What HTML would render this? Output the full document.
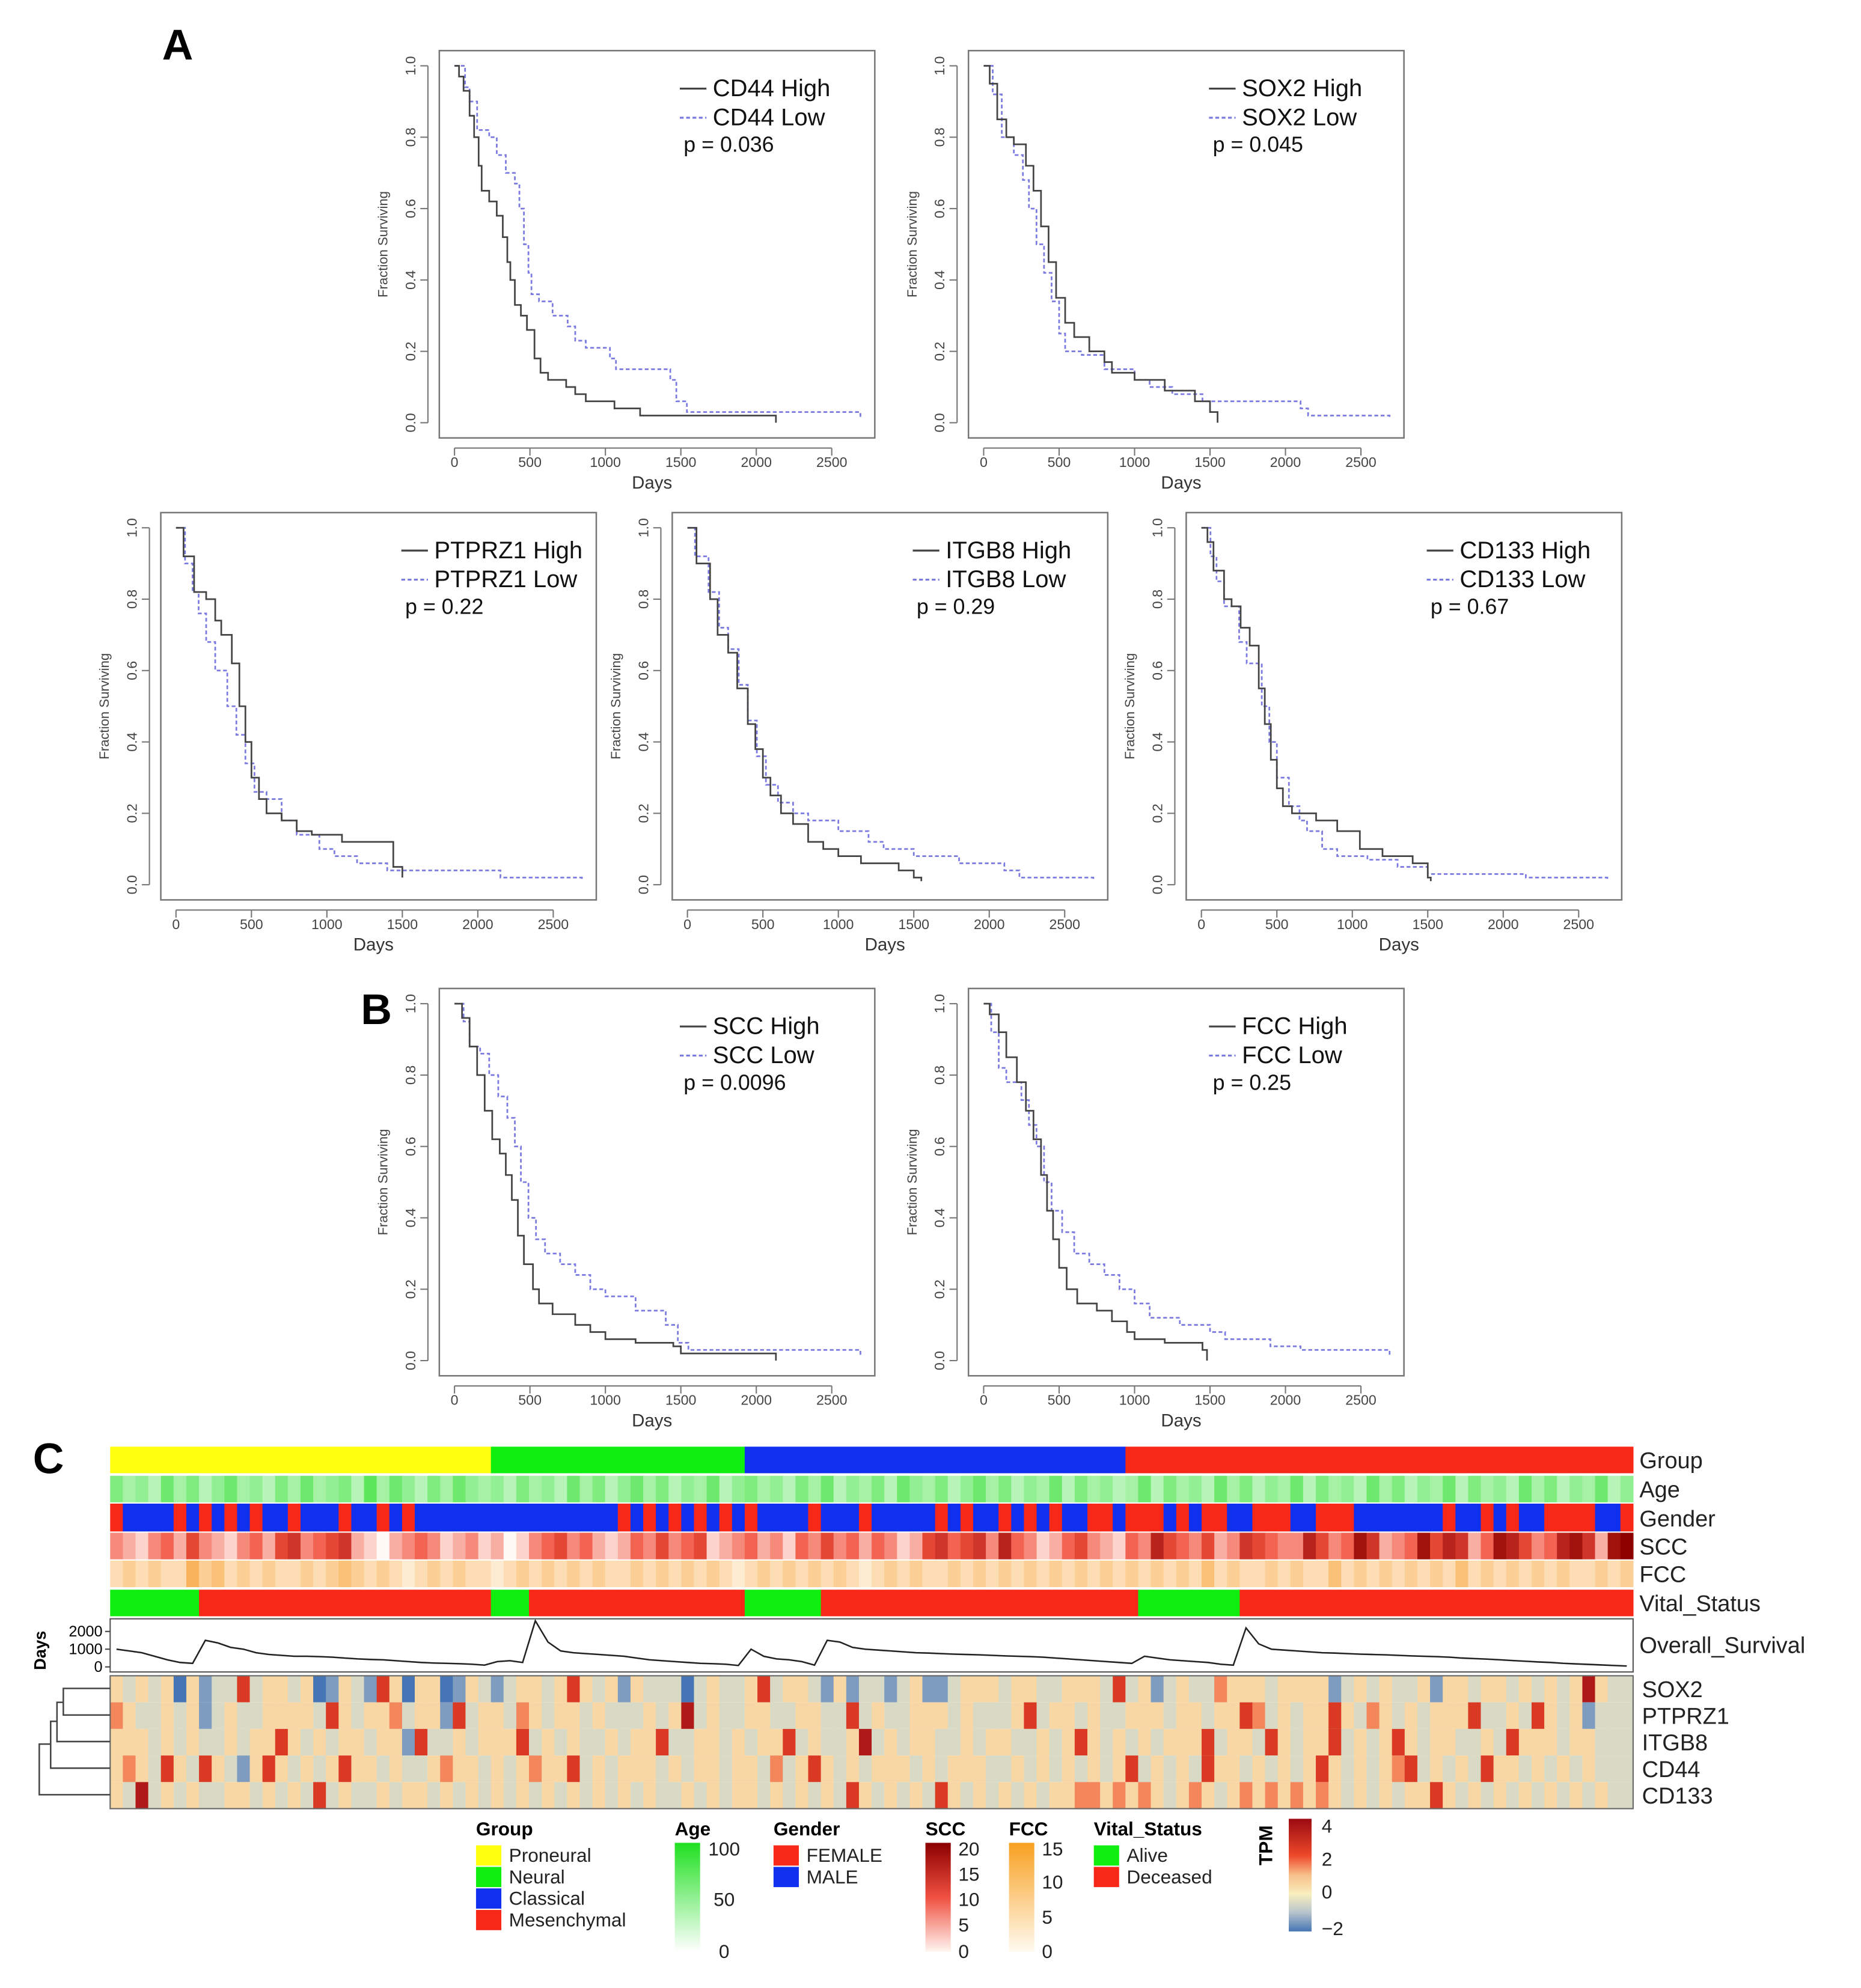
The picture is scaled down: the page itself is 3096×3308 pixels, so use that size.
<!DOCTYPE html>
<html><head><meta charset="utf-8"><style>
html,body{margin:0;padding:0;background:#fff}
svg{display:block}
text{font-family:"Liberation Sans",sans-serif}
</style></head><body>
<svg id="fig" width="3096" height="3308" viewBox="0 0 1470 1570.7" xmlns="http://www.w3.org/2000/svg"></svg>
<script>
// ---------- KM data ----------
const kmTitles=["CD44","SOX2","PTPRZ1","ITGB8","CD133","SCC","FCC"];
const kmPvals=["p = 0.036","p = 0.045","p = 0.22","p = 0.29","p = 0.67","p = 0.0096","p = 0.25"];
const highCD44=[[0,1],[30,0.97],[60,0.93],[100,0.86],[130,0.8],[160,0.72],[180,0.65],[230,0.62],[280,0.58],[320,0.52],[350,0.45],[370,0.4],[400,0.33],[440,0.3],[480,0.26],[530,0.18],[570,0.14],[620,0.12],[740,0.1],[800,0.08],[870,0.06],[1060,0.04],[1230,0.02],[2130,0.02],[2130,0]];
const lowCD44=[[0,1],[70,0.94],[100,0.9],[150,0.82],[230,0.8],[280,0.75],[340,0.7],[400,0.67],[430,0.6],[460,0.5],[490,0.42],[510,0.36],[560,0.34],[650,0.3],[750,0.27],[800,0.23],[870,0.21],[1030,0.18],[1070,0.15],[1430,0.12],[1470,0.06],[1540,0.03],[2690,0.03],[2690,0.01]];
const highSOX2=[[0,1],[40,0.95],[90,0.85],[150,0.8],[200,0.78],[280,0.72],[330,0.65],[380,0.55],[430,0.45],[480,0.35],[540,0.28],[600,0.24],[700,0.2],[800,0.17],[850,0.14],[1000,0.12],[1200,0.09],[1400,0.06],[1500,0.03],[1550,0]];
const lowSOX2=[[0,1],[60,0.92],[120,0.8],[200,0.75],[260,0.68],[300,0.6],[350,0.5],[400,0.42],[450,0.34],[500,0.25],[540,0.2],[650,0.19],[800,0.15],[1000,0.12],[1100,0.1],[1250,0.08],[1450,0.06],[2100,0.04],[2150,0.02],[2690,0.02],[2690,0.01]];
const highPTPRZ1=[[0,1],[50,0.92],[120,0.82],[200,0.8],[260,0.74],[300,0.7],[370,0.62],[420,0.5],[460,0.4],[500,0.3],[550,0.24],[600,0.2],[700,0.18],[800,0.15],[900,0.14],[1100,0.12],[1440,0.05],[1500,0.04],[1500,0.02]];
const lowPTPRZ1=[[0,1],[60,0.9],[110,0.82],[150,0.76],[200,0.68],[260,0.6],[340,0.5],[400,0.42],[460,0.34],[520,0.26],[600,0.24],[700,0.18],[800,0.14],[950,0.1],[1050,0.08],[1200,0.06],[1400,0.04],[2100,0.04],[2150,0.02],[2690,0.02],[2690,0.01]];
const highITGB8=[[0,1],[60,0.9],[150,0.8],[200,0.7],[270,0.65],[330,0.55],[400,0.45],[450,0.38],[500,0.3],[550,0.25],[620,0.2],[700,0.17],[800,0.12],[900,0.1],[1000,0.08],[1150,0.06],[1400,0.04],[1500,0.02],[1550,0.01]];
const lowITGB8=[[0,1],[50,0.92],[140,0.82],[210,0.72],[270,0.66],[340,0.56],[400,0.46],[460,0.36],[520,0.28],[600,0.23],[700,0.2],[800,0.18],[1000,0.15],[1200,0.12],[1300,0.1],[1500,0.08],[1800,0.06],[2100,0.04],[2200,0.02],[2690,0.02],[2690,0.01]];
const highCD133=[[0,1],[40,0.96],[80,0.88],[150,0.8],[200,0.78],[260,0.72],[320,0.67],[380,0.55],[420,0.45],[460,0.35],[500,0.27],[540,0.22],[600,0.2],[760,0.18],[900,0.15],[1050,0.1],[1200,0.08],[1400,0.06],[1500,0.02],[1520,0.01]];
const lowCD133=[[0,1],[60,0.92],[100,0.85],[150,0.78],[250,0.68],[300,0.62],[400,0.5],[450,0.4],[500,0.3],[580,0.22],[650,0.18],[700,0.15],[800,0.1],[900,0.08],[1100,0.07],[1300,0.05],[1500,0.03],[2100,0.03],[2150,0.02],[2690,0.02],[2690,0.01]];
const highSCC=[[0,1],[50,0.96],[100,0.88],[150,0.8],[200,0.7],[250,0.62],[300,0.58],[340,0.52],[380,0.45],[420,0.35],[460,0.27],[520,0.2],[560,0.16],[650,0.13],[800,0.1],[900,0.08],[1000,0.06],[1200,0.05],[1450,0.04],[1500,0.02],[2130,0.02],[2130,0]];
const lowSCC=[[0,1],[60,0.95],[100,0.88],[170,0.86],[230,0.8],[290,0.74],[350,0.68],[400,0.6],[440,0.5],[490,0.4],[540,0.34],[600,0.3],[700,0.27],[800,0.24],[900,0.2],[1000,0.18],[1200,0.14],[1400,0.1],[1480,0.05],[1550,0.03],[2690,0.03],[2690,0.01]];
const highFCC=[[0,1],[40,0.97],[100,0.92],[150,0.85],[220,0.78],[280,0.7],[330,0.62],[380,0.52],[420,0.42],[460,0.34],[500,0.26],[550,0.2],[620,0.16],[750,0.14],[850,0.11],[950,0.08],[1000,0.06],[1200,0.05],[1450,0.03],[1480,0]];
const lowFCC=[[0,1],[50,0.92],[100,0.82],[150,0.78],[250,0.73],[300,0.66],[350,0.6],[400,0.5],[450,0.42],[520,0.36],[600,0.3],[700,0.27],[800,0.24],[900,0.2],[1000,0.16],[1100,0.12],[1300,0.1],[1500,0.08],[1600,0.06],[1900,0.04],[2100,0.03],[2690,0.03],[2690,0.01]];
const kmHigh=[highCD44,highSOX2,highPTPRZ1,highITGB8,highCD133,highSCC,highFCC];
const kmLow=[lowCD44,lowSOX2,lowPTPRZ1,lowITGB8,lowCD133,lowSCC,lowFCC];
const xTicks=[0,500,1000,1500,2000,2500];
const yTicks=[0,0.2,0.4,0.6,0.8,1.0];
// ---------- heatmap data ----------
const groupNames=["Proneural","Neural","Classical","Mesenchymal"];
const groupCounts=[30,20,30,40];
const vitalRuns=[["A",7],["D",23],["A",3],["D",17],["A",6],["D",25],["A",8],["D",31]];
const genderStr="FMMMMFMFMFMFMMFMMMFMMFMFMMMMMM"+"MMMMMMMMMMFMFMFMFMFM"+"FMMMMFMMMFMMMMMFMFMMFMFMFMMFFM"+"FFFMFMFFMMFFFMMFFFMMMMMMMFMMFMFMMFFFFMMF";
const ageStr="534263524634253634527364253643"+"42534263524635243624"+"534253624352643524635243625342"+"3625342635243625342635243625342635243624";
const sccStr="321342532134256345621023431231"+"20134534212435345123"+"423143534243125645637431245321"+"4375435236543375348623485762487534786289";
const fccStr="232322534232322323432321232322"+"12323232322323232321"+"232323232123232232323232323232"+"3232324232232322423232323242323232322323";
const osDays=[1000,900,800,600,400,250,200,1500,1350,1100,1000,800,700,650,600,600,580,550,500,450,420,400,350,300,250,220,200,180,150,100,300,350,250,2600,1400,900,800,750,700,650,600,500,400,350,300,250,200,180,150,80,1000,600,450,400,300,100,1500,1400,1100,1000,950,900,850,800,780,750,720,700,680,650,620,600,580,550,500,450,400,350,300,250,200,600,500,400,350,300,250,150,100,2200,1300,1000,950,900,850,800,780,750,720,700,680,650,620,600,580,550,500,470,440,400,360,320,280,250,200,170,140,110,80,50];
const osTicks=[0,1000,2000];
const geneNames=["SOX2","PTPRZ1","ITGB8","CD44","CD133"];
const exprSOX2  ="323230312252332301321530330132"+"12332353231322202322"+"35233213122123112333"+"23322333252312322433"+"3233331232322313323323232363";
const exprPTPRZ1="432232312322333325323342331523"+"32432332322232362322"+"33223322523223332322"+"23523323223332332335"+"4232335324323233352232532312";
const exprITGB8 ="333232322323353232332331522323"+"33523232232335223323"+"23352322362323322323"+"32232353232323335233"+"2532335232353233223253332332";
const exprCD44  ="343253253213532323533232234332"+"32343352323332323323"+"32423532323332323332"+"23232323235232325332"+"3232353232345232325332323232";
const exprCD133 ="326232322332323252322323323232"+"32323232323232232323"+"32323232532323253232"+"32323344343432343234"+"3434343232323353232323232323";
const exprRows=[exprSOX2,exprPTPRZ1,exprITGB8,exprCD44,exprCD133];

// ---------- helpers ----------
const svg=document.getElementById('fig');
const NS="http://www.w3.org/2000/svg";
function mk(tag,attrs,parent,txt){const e=document.createElementNS(NS,tag);for(const k in attrs)e.setAttribute(k,attrs[k]);if(txt!==undefined)e.textContent=txt;(parent||svg).appendChild(e);return e;}
function lerp(a,b,t){return a.map((v,i)=>Math.round(v+(b[i]-v)*t));}
function rgb(c){return `rgb(${c[0]},${c[1]},${c[2]})`;}
function ramp(stops,t){t=Math.max(0,Math.min(1,t));for(let i=0;i<stops.length-1;i++){if(t<=stops[i+1][0]){const u=(t-stops[i][0])/(stops[i+1][0]-stops[i][0]);return rgb(lerp(stops[i][1],stops[i+1][1],u));}}return rgb(stops[stops.length-1][1]);}
const tpmStops=[[0,[69,117,180]],[0.17,[185,196,204]],[0.33,[248,239,191]],[0.5,[248,192,138]],[0.67,[238,74,42]],[1,[154,10,18]]];
function tpmColor(v){return ramp(tpmStops,(v+2)/6);}
function ageColor(d){return ramp([[0,[255,255,255]],[1,[20,220,20]]],d/9*0.7+0.15);}
function sccColor(d){return ramp([[0,[255,250,245]],[0.5,[240,80,60]],[1,[140,0,0]]],d/9);}
function fccColor(d){return ramp([[0,[255,250,240]],[1,[246,150,30]]],d/7);}

// ---------- KM plots ----------
const kmBoxes=[[347,40],[765,40],[127,405],[531,405],[937,405],[347,781],[765,781]];
kmBoxes.forEach((b,i)=>{
  const bx=b[0],by=b[1];
  const g=mk('g',{});
  const xs=d=>bx+12+d*(298/2500);
  const ys=s=>by+294-s*282;
  mk('rect',{x:bx,y:by,width:344,height:306,fill:'none',stroke:'#777','stroke-width':1.2,},g);
  const ya=mk('g',{},g);
  mk('line',{x1:bx-9,x2:bx-9,y1:ys(0),y2:ys(1),stroke:'#777'},ya);
  yTicks.forEach(t=>{mk('line',{x1:bx-15,x2:bx-9,y1:ys(t),y2:ys(t),stroke:'#777'},ya);
    mk('text',{x:bx-19,y:ys(t),transform:`rotate(-90 ${bx-19} ${ys(t)})`,'text-anchor':'middle','font-size':11,fill:'#444',},ya,t.toFixed(1));});
  mk('text',{x:bx-41,y:by+153,transform:`rotate(-90 ${bx-41} ${by+153})`,'text-anchor':'middle','font-size':10.5,fill:'#444',},ya,'Fraction Surviving');
  const xa=mk('g',{},g);
  mk('line',{x1:xs(0),x2:xs(2500),y1:by+314,y2:by+314,stroke:'#777'},xa);
  xTicks.forEach(t=>{mk('line',{x1:xs(t),x2:xs(t),y1:by+314,y2:by+320,stroke:'#777'},xa);
    mk('text',{x:xs(t),y:by+329,'text-anchor':'middle','font-size':11,fill:'#444',},xa,t);});
  mk('text',{x:bx+168,y:by+346,'text-anchor':'middle','font-size':14,fill:'#333',},xa,'Days');
  function stepPath(pts){let d=`M${xs(pts[0][0])},${ys(pts[0][1])}`;for(let k=1;k<pts.length;k++){d+=` H${xs(pts[k][0])} V${ys(pts[k][1])}`;}return d;}
  mk('path',{d:stepPath(kmLow[i]),fill:'none',stroke:'#7a7ae0','stroke-width':1.3,'stroke-dasharray':'3,2',},g);
  mk('path',{d:stepPath(kmHigh[i]),fill:'none',stroke:'#444','stroke-width':1.3,},g);
  const lg=mk('g',{},g);
  mk('line',{x1:bx+190,x2:bx+211,y1:by+30,y2:by+30,stroke:'#444','stroke-width':1.5},lg);
  mk('text',{x:bx+216,y:by+36,'font-size':19,fill:'#111',},lg,kmTitles[i]+' High');
  mk('line',{x1:bx+190,x2:bx+211,y1:by+53,y2:by+53,stroke:'#7a7ae0','stroke-width':1.5,'stroke-dasharray':'3,2'},lg);
  mk('text',{x:bx+216,y:by+59,'font-size':19,fill:'#111',},lg,kmTitles[i]+' Low');
  mk('text',{x:bx+193,y:by+80,'font-size':17,fill:'#111',},lg,kmPvals[i]);
});
mk('text',{x:128,y:47,'font-size':34,'font-weight':'bold',},svg,'A');
mk('text',{x:285,y:809,'font-size':34,'font-weight':'bold',},svg,'B');
mk('text',{x:26,y:1164,'font-size':34,'font-weight':'bold',},svg,'C');

// ---------- heatmap ----------
const N=120,HX=87,HW=1203,cw=HW/N;
const hg=mk('g',{});
const groupColors=["#ffff10","#10ee10","#1030f0","#f82818"];
let c0=0;
groupCounts.forEach((n,i)=>{const r=mk('rect',{x:HX+c0*cw,y:1143,width:n*cw+0.3,height:21,fill:groupColors[i]},hg);c0+=n;});
const rows=[[ageStr,ageColor,1166,'age'],[sccStr,sccColor,1211,'scc'],[fccStr,fccColor,1233,'fcc']];
rows.forEach(r=>{for(let j=0;j<N;j++){const d=+(r[0][j]||'3');const e=mk('rect',{x:HX+j*cw,y:r[2],width:cw+0.3,height:21,fill:r[1](d)},hg);}});
for(let j=0;j<N;j++){const e=mk('rect',{x:HX+j*cw,y:1188,width:cw+0.3,height:22,fill:(genderStr[j]==='F')?'#f82818':'#1030f0'},hg);}
c0=0;vitalRuns.forEach(v=>{const e=mk('rect',{x:HX+c0*cw,y:1256,width:v[1]*cw+0.3,height:21,fill:v[0]==='A'?'#10ee10':'#f82818'},hg);c0+=v[1];});
// overall survival
const osY=d=>1317-d*0.014;
mk('rect',{x:HX,y:1279,width:HW,height:42,fill:'#fff',stroke:'#555','stroke-width':1,},hg);
mk('polyline',{points:osDays.map((d,j)=>`${HX+(j+0.5)*cw},${osY(d)}`).join(' '),fill:'none',stroke:'#222','stroke-width':1.2,},hg);
osTicks.forEach(t=>{mk('line',{x1:HX-4,x2:HX,y1:osY(t),y2:osY(t),stroke:'#444'},hg);mk('text',{x:HX-6,y:osY(t)+4,'text-anchor':'end','font-size':12,},hg,t);});
mk('text',{x:36,y:1304,transform:'rotate(-90 36 1304)','text-anchor':'middle','font-size':13,'font-weight':'bold',},hg,'Days');
// expression (value = digit - 2.5)
exprRows.forEach((s,r)=>{for(let j=0;j<N;j++){const v=(+(s[j]||'2'))-2.5;const e=mk('rect',{x:HX+j*cw,y:1324+r*21,width:cw+0.3,height:21,fill:tpmColor(v)},hg);}});
mk('rect',{x:HX,y:1324,width:HW,height:105,fill:'none',stroke:'#666',},hg);
// row labels
const annLabels=[["Group",1160],["Age",1183],["Gender",1206],["SCC",1228],["FCC",1250],["Vital_Status",1273],["Overall_Survival",1306]];
annLabels.forEach(a=>mk('text',{x:1295,y:a[1],'font-size':18,fill:'#222',},hg,a[0]));
geneNames.forEach((n,r)=>mk('text',{x:1297,y:1341+r*21,'font-size':18,fill:'#222',},hg,n));
// dendrogram
mk('path',{d:'M87,1334 H50 V1355 H87 M50,1345 H45 V1376 H87 M45,1360 H40 V1397 H87 M40,1378 H31 V1418 H87',fill:'none',stroke:'#444','stroke-width':1.2,},hg);
// legends
const L=mk('g',{});
function title(x,t){mk('text',{x:x,y:1450,'font-size':15,'font-weight':'bold',},L,t);}
function sw(x,y,c,t){mk('rect',{x:x,y:y,width:20,height:16,fill:c,},L);mk('text',{x:x+26,y:y+13,'font-size':15,fill:'#222',},L,t);}
title(376,'Group');groupNames.forEach((n,i)=>sw(376,1458+i*17,groupColors[i],n));
title(611,'Gender');sw(611,1458,'#f82818','FEMALE');sw(611,1475,'#1030f0','MALE');
title(864,'Vital_Status');sw(864,1458,'#10ee10','Alive');sw(864,1475,'#f82818','Deceased');
const defs=mk('defs',{});
function grad(id,stops){const lg=mk('linearGradient',{id:id,x1:0,y1:1,x2:0,y2:0},defs);stops.forEach(s=>mk('stop',{offset:s[0],'stop-color':s[1]},lg));}
grad('gAge',[[0,'#ffffff'],[1,'#20e020']]);grad('gScc',[[0,'#fff5f0'],[0.5,'#f05040'],[1,'#8b0000']]);grad('gFcc',[[0,'#fffaf0'],[1,'#f8a020']]);
grad('gTpm',[[0,'#4575b4'],[0.17,'#b9c4cc'],[0.33,'#f8efbf'],[0.5,'#f8c08a'],[0.67,'#ee4a2a'],[1,'#9a0a12']]);
title(533,'Age');mk('rect',{x:533,y:1456,width:20,height:86,fill:'url(#gAge)',},L);
[["100",1466],["50",1506],["0",1547]].forEach(a=>mk('text',{x:572,y:a[1],'text-anchor':'middle','font-size':15,fill:'#222',},L,a[0]));
title(731,'SCC');mk('rect',{x:731,y:1456,width:20,height:86,fill:'url(#gScc)',},L);
[["20",1466],["15",1486],["10",1506],["5",1526],["0",1547]].forEach(a=>mk('text',{x:757,y:a[1],'font-size':15,fill:'#222',},L,a[0]));
title(797,'FCC');mk('rect',{x:797,y:1456,width:20,height:86,fill:'url(#gFcc)',},L);
[["15",1466],["10",1492],["5",1520],["0",1547]].forEach(a=>mk('text',{x:823,y:a[1],'font-size':15,fill:'#222',},L,a[0]));
mk('text',{x:1005,y:1458,transform:'rotate(-90 1005 1458)','text-anchor':'middle','font-size':15,'font-weight':'bold',},L,'TPM');
mk('rect',{x:1018,y:1437,width:18,height:89,fill:'url(#gTpm)',},L);
[["4",1448],["2",1474],["0",1500],["−2",1529]].forEach(a=>mk('text',{x:1044,y:a[1],'font-size':15,fill:'#222',},L,a[0]));
</script>
</body></html>
